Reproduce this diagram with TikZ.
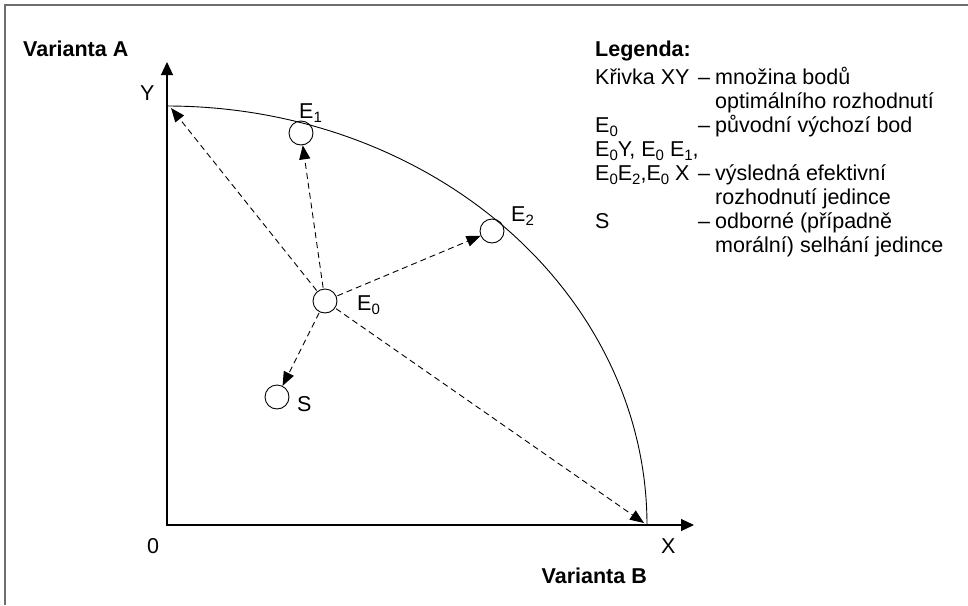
\documentclass[tikz,border=0pt]{standalone}
\usepackage{fontspec}
\setmainfont{Liberation Sans}
\usetikzlibrary{arrows.meta}
\newcommand\sbs[1]{\raisebox{-4.5pt}{\fontsize{15}{15}\selectfont #1}}
\begin{document}
\begin{tikzpicture}[x=1pt,y=-1pt,
  every node/.style={font=\fontsize{21.5}{24}\selectfont, inner sep=0pt},
  dot/.style={circle,draw,line width=0.9pt,minimum size=24pt,inner sep=0pt},
  lbl/.style={anchor=base west},
  bold/.style={font=\fontsize{21.5}{24}\selectfont\bfseries},
  dar/.style={line width=0.9pt,dash pattern=on 6pt off 4pt,-{Triangle[length=14pt,width=11pt]},shorten <=1pt},
]
\useasboundingbox (0,0) rectangle (968,605);
\draw[line width=2pt, color={rgb,255:red,110;green,110;blue,110}] (5,605) -- (5,5) -- (968,5);

% axes
\coordinate (O) at (167,525);
\coordinate (Ytip) at (167,62);
\coordinate (Xtip) at (694,525);
\draw[line width=1.2pt,{Triangle[length=13pt,width=12pt]}-{Triangle[length=13pt,width=12pt]}] (Ytip) -- (O) -- (Xtip);

% curve XY
\draw[line width=0.9pt] plot[domain=0:90,samples=90,smooth] ({167+480*cos(\x)},{525-419*sin(\x)});

% points
\node[dot] (E0) at (325,301) {};
\node[dot] (E1) at (301,133) {};
\node[dot] (E2) at (492,231) {};
\node[dot] (S) at (277,397) {};
\coordinate (Yc) at (171,108);
\coordinate (Xc) at (644,523);

\draw[dar] (E0) -- (Yc);
\draw[dar] (E0) -- (E1);
\draw[dar] (E0) -- (E2);
\draw[dar] (E0) -- (Xc);
\draw[dar] (E0) -- (S);

% labels
\node[lbl] (lE0) at (357,310) {E\sbs{0}};
\node[lbl] (lE1) at (299,118) {E\sbs{1}};
\node[lbl] (lE2) at (511,221) {E\sbs{2}};
\node[lbl] (lS) at (297,411) {S};
\node[lbl] (lY) at (140,100) {Y};
\node[lbl] (lX) at (661,553) {X};
\node[lbl] (l0) at (147,553) {0};
\node[lbl,bold] (vA) at (23,56) {Varianta A};
\node[anchor=base east,bold] (vB) at (647,583) {Varianta B};

% legend
\node[lbl,bold] (leg) at (595,56) {Legenda:};
\node[lbl] (r1a) at (595,84) {Křivka XY};
\node[lbl] (r1d) at (698,84) {–};
\node[lbl] (r1b) at (715,84) {množina bodů};
\node[lbl] (r2b) at (715,108) {optimálního rozhodnutí};
\node[lbl] (r3a) at (595,132) {E\sbs{0}};
\node[lbl] (r3d) at (698,132) {–};
\node[lbl] (r3b) at (715,132) {původní výchozí bod};
\node[lbl] (r4a) at (595,156) {E\sbs{0}Y, E\sbs{0} E\sbs{1},};
\node[lbl] (r5a) at (595,180) {E\sbs{0}E\sbs{2},E\sbs{0} X};
\node[lbl] (r5d) at (698,180) {–};
\node[lbl] (r5b) at (715,180) {výsledná efektivní};
\node[lbl] (r6b) at (715,204) {rozhodnutí jedince};
\node[lbl] (r7a) at (595,228) {S};
\node[lbl] (r7d) at (698,228) {–};
\node[lbl] (r7b) at (715,228) {odborné (případně};
\node[lbl] (r8b) at (715,252) {morální) selhání jedince};
\end{tikzpicture}
\end{document}
